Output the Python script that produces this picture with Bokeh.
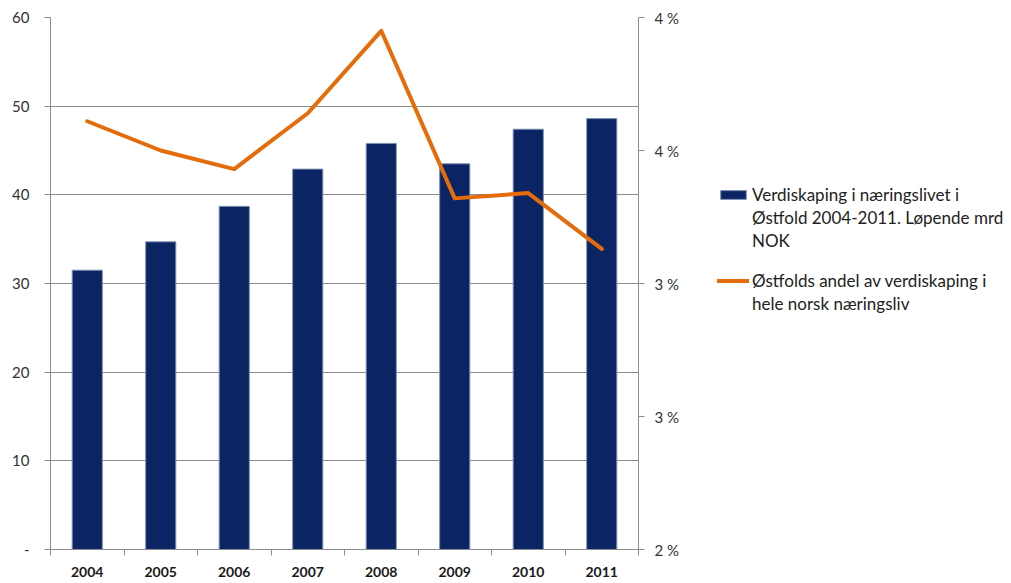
from bokeh.plotting import figure
from bokeh.models import (Range1d, LinearAxis, FixedTicker, Legend, LegendItem,
                          ColumnDataSource)
from bokeh.layouts import row
from bokeh.embed import file_html
from bokeh.resources import INLINE

years = ["2004", "2005", "2006", "2007", "2008", "2009", "2010", "2011"]
verdiskaping = [31.5, 34.7, 38.7, 42.9, 45.8, 43.5, 47.4, 48.6]
andel = [3.61, 3.50, 3.43, 3.64, 3.95, 3.32, 3.34, 3.13]

left_ticks = [0, 10, 20, 30, 40, 50, 60]
left_labels = ["-", "10", "20", "30", "40", "50", "60"]
right_ticks = [2.0, 2.5, 3.0, 3.5, 4.0]
right_labels = ["2 %", "3 %", "3 %", "4 %", "4 %"]

bar_label_lines = ["Verdiskaping i næringslivet i",
                   "Østfold 2004-2011. Løpende mrd", "NOK"]
line_label_lines = ["Østfolds andel av verdiskaping i",
                    "hele norsk næringsliv"]

FONT = "Lato"
GRID = "#8c8c8c"
BAR = "#0b2463"
BAR_EDGE = "#7f8fb5"
ORANGE = "#e46c0a"

centers = [i + 0.5 for i in range(len(years))]
bounds = list(range(len(years) + 1))

src = ColumnDataSource(dict(x=centers, v=verdiskaping, a=andel))

LEFT_W = 690
TOTAL_W = 1003
H = 583

p = figure(frame_width=588, frame_height=532, output_backend="svg",
           toolbar_location=None, x_range=Range1d(0, len(years)),
           y_range=Range1d(0, 60), min_border_left=50, min_border_top=17,
           min_border_bottom=H - 17 - 532, min_border_right=LEFT_W - 50 - 588)
p.outline_line_color = None
p.background_fill_color = "white"
p.border_fill_color = "white"

p.extra_y_ranges = {"pct": Range1d(2.0, 4.0)}

# grid
p.xgrid.visible = False
p.ygrid.ticker = FixedTicker(ticks=left_ticks)
p.ygrid.grid_line_color = GRID
p.ygrid.grid_line_width = 1

# bars
bars = p.vbar(x="x", top="v", width=0.41, source=src, fill_color=BAR,
              line_color=BAR_EDGE, line_width=1)
# line
ln = p.line(x="x", y="a", source=src, y_range_name="pct", line_color=ORANGE,
            line_width=4, line_join="round", line_cap="round")

# axes
xa = p.xaxis[0]
xa.ticker = FixedTicker(ticks=centers, minor_ticks=bounds)
xa.major_label_overrides = {c: y for c, y in zip(centers, years)}
xa.major_tick_out = 0
xa.major_tick_in = 0
xa.minor_tick_out = 6
xa.minor_tick_in = 0
xa.minor_tick_line_color = GRID
xa.axis_line_color = GRID
xa.major_label_text_font = FONT
xa.major_label_text_font_style = "bold"
xa.major_label_text_font_size = "14px"
xa.major_label_text_color = "#1a1a1a"
xa.major_label_standoff = 11

ya = p.yaxis[0]
ya.ticker = FixedTicker(ticks=left_ticks)
ya.major_label_overrides = {t: l for t, l in zip(left_ticks, left_labels)}
ya.major_tick_out = 6
ya.major_tick_in = 0
ya.minor_tick_out = 0
ya.minor_tick_in = 0
ya.major_tick_line_color = GRID
ya.axis_line_color = GRID
ya.major_label_text_font = FONT
ya.major_label_text_font_size = "15px"
ya.major_label_text_color = "#333333"
ya.major_label_standoff = 15

ra = LinearAxis(y_range_name="pct", ticker=FixedTicker(ticks=right_ticks))
ra.major_label_overrides = {t: l for t, l in zip(right_ticks, right_labels)}
ra.major_tick_out = 6
ra.major_tick_in = 0
ra.minor_tick_out = 0
ra.minor_tick_in = 0
ra.major_tick_line_color = GRID
ra.axis_line_color = GRID
ra.major_label_text_font = FONT
ra.major_label_text_font_size = "15px"
ra.major_label_text_color = "#333333"
ra.major_label_standoff = 10
p.add_layout(ra, "right")

# legend panel (separate figure to the right)
q = figure(width=TOTAL_W - LEFT_W, height=H, output_backend="svg",
           toolbar_location=None, x_range=Range1d(0, 1), y_range=Range1d(0, 1),
           min_border=0)
q.outline_line_color = None
q.axis.visible = False
q.grid.visible = False
q.border_fill_color = "white"

# legend proxies placed outside the visible range of the legend panel
lbar = q.vbar(x=[5], top=[5], bottom=[4], width=0.5, fill_color=BAR,
              line_color=BAR_EDGE)
lline = q.line(x=[5, 6], y=[5, 5], line_color=ORANGE, line_width=4,
               line_cap="round")
blank = q.line(x=[5, 6], y=[5, 5], line_alpha=0)


def make_legend(lines, renderer, loc):
    items = [LegendItem(label=lines[0], renderers=[renderer])]
    items += [LegendItem(label=t, renderers=[blank]) for t in lines[1:]]
    lg = Legend(items=items, location=loc, border_line_color=None,
                background_fill_alpha=0, label_text_font=FONT,
                label_text_font_size="17px", label_text_color="#222222",
                glyph_width=32, glyph_height=11, spacing=1, padding=0,
                margin=0, label_standoff=3, label_height=22)
    q.add_layout(lg, "center")


make_legend(bar_label_lines, lbar, (27, 298))
make_legend(line_label_lines, lline, (27, 235))

layout = row(p, q, spacing=0)
open("out.html", "w").write(file_html(layout, INLINE))
